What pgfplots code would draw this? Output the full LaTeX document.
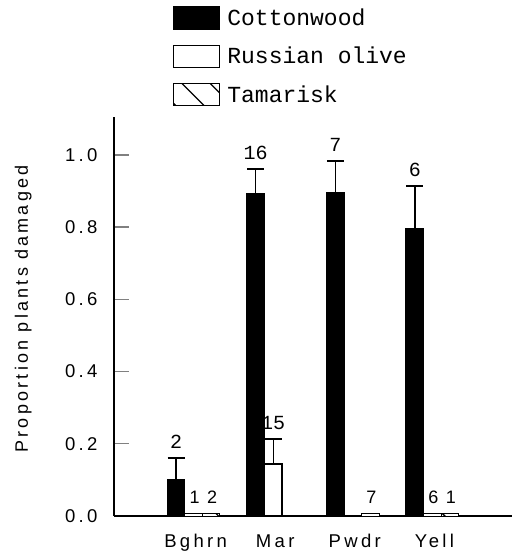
\documentclass[border=0pt]{standalone}
\usepackage{fontspec}
\setmainfont{Liberation Sans}
\newfontfamily\tickfont[LetterSpace=18]{Liberation Sans}
\newfontfamily\monofont{Liberation Mono}
\usepackage{pgfplots}
\pgfplotsset{compat=1.18}
\usetikzlibrary{patterns.meta,calc}
\pgfplotsset{
  mylegend/.style={legend image code/.code={\draw[##1,line width=1.3pt] (0pt,-11pt) rectangle (46pt,11pt);}},
  mybar/.style={ybar, bar width=0.22, bar shift=0pt, line width=1.3pt, draw=black, mylegend},
  lab/.style={only marks, mark=text, text mark={}, forget plot,
    nodes near coords, point meta=explicit symbolic},
}
\begin{document}
\begin{tikzpicture}
\begin{axis}[
  scale only axis, width=398pt, height=399pt,
  xmin=-1, xmax=4, ymin=0, ymax=1.105,
  axis x line=bottom, axis y line=left,
  axis line style={-, line width=1.5pt},
  xtick={0,1,2,3}, xticklabels={Bghrn,Mar,Pwdr,Yell},
  x tick style={draw=none},
  ytick={0,0.2,0.4,0.6,0.8,1.0},
  y tick style={line width=1.3pt},
  tick align=inside, major tick length=15pt,
  /pgf/number format/assume math mode=true,
  tick label style={font=\tickfont\fontsize{18.5}{18.5}\selectfont},
  yticklabel style={xshift=-13pt, /pgf/number format/.cd, fixed, fixed zerofill, precision=1},
  xticklabel style={yshift=-15pt, xshift=2pt},
  ylabel={Proportion plants damaged},
  ylabel style={font=\tickfont\fontsize{18}{18}\selectfont, at={(axis description cs:-0.228,0.519)}, anchor=center},
  legend style={draw=none, fill=none, at={(axis description cs:0.148,1.278)}, anchor=north west,
    font=\monofont\fontsize{23}{23}\selectfont, row sep=15pt, column sep=5pt, inner sep=0pt, cells={anchor=west}},
  legend cell align=left,
  clip=false,
]
% Cottonwood
\addplot[mybar, fill=black,
  error bars/.cd, y dir=plus, y explicit,
  error bar style={line width=1.3pt},
  error mark options={rotate=90, mark size=8.5pt, line width=1.3pt}]
  table[x=x, y=y, y error=e] {
  x y e
  -0.22 0.102 0.059
  0.78 0.892 0.069
  1.78 0.895 0.088
  2.78 0.795 0.119
};
\addlegendentry{Cottonwood}
% Russian olive
\addplot[mybar, fill=white,
  error bars/.cd, y dir=plus, y explicit,
  error bar style={line width=1.3pt},
  error mark options={rotate=90, mark size=8.5pt, line width=1.3pt}]
  table[x=x, y=y, y error=e] {
  x y e
  1 0.144 0.069
};
\addlegendentry{Russian olive}
\addplot[mybar, fill=white, line width=1pt, forget plot] table[x=x, y=y] {
  x y
  0 0.008
  3 0.008
};
% Tamarisk
\addplot[mybar, fill=white, line width=1pt,
  postaction={pattern={Lines[angle=-45,distance=20pt,line width=1.3pt]}}] table[x=x, y=y] {
  x y
  0.22 0.008
  2.22 0.008
  3.22 0.008
};
\addlegendentry{Tamarisk}
% sample sizes above error bars
\addplot[lab,
  nodes near coords style={anchor=south, inner sep=0pt, yshift=9pt, font=\monofont\fontsize{20}{20}\selectfont}]
  table[x=x, y=y, meta=lab] {
  x y lab
  -0.22 0.161 2
  0.78 0.961 16
  1.00 0.213 15
  1.78 0.983 7
  2.78 0.914 6
};
% sample sizes above small bars
\addplot[lab,
  nodes near coords style={anchor=south, inner sep=0pt, yshift=9pt, xshift=1pt, font=\tickfont\fontsize{18}{18}\selectfont}]
  table[x=x, y=y, meta=lab] {
  x y lab
  0.00 0.008 1
  0.22 0.008 2
  2.22 0.008 7
  3.00 0.008 6
  3.22 0.008 1
};
\end{axis}
\pgfresetboundingbox
\path ($(current axis.south west)+(-114pt,-36pt)$) rectangle ($(current axis.north east)+(0pt,117pt)$);
\end{tikzpicture}
\end{document}
